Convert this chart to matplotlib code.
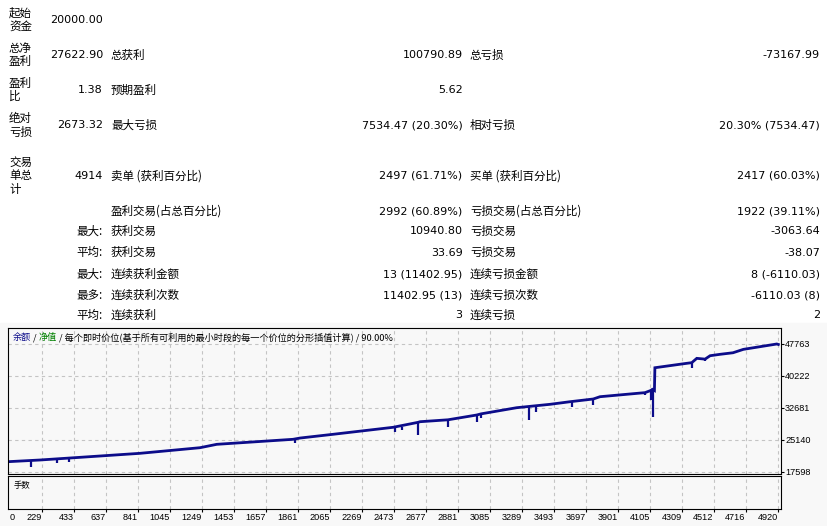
import matplotlib
matplotlib.use("Agg")
import matplotlib.pyplot as plt
from matplotlib.patches import Rectangle

W, H = 827, 526
CJK = ['Noto Sans CJK SC', 'DejaVu Sans']
NUM = ['DejaVu Sans']

# ---- 报告表格 ----
top_labels = [["起始", "资金"], ["总净", "盈利"], ["盈利", "比"], ["绝对", "亏损"], ["交易", "单总", "计"]]
top_vals = ["20000.00", "27622.90", "1.38", "2673.32", "4914"]
top_lab1 = ["", "总获利", "预期盈利", "最大亏损", "卖单 (获利百分比)"]
top_val1 = ["", "100790.89", "5.62", "7534.47 (20.30%)", "2497 (61.71%)"]
top_lab2 = ["", "总亏损", "", "相对亏损", "买单 (获利百分比)"]
top_val2 = ["", "-73167.99", "", "20.30% (7534.47)", "2417 (60.03%)"]

low_prefix = ["", "最大:", "平均:", "最大:", "最多:", "平均:"]
low_lab1 = ["盈利交易(占总百分比)", "获利交易", "获利交易", "连续获利金额", "连续获利次数", "连续获利"]
low_val1 = ["2992 (60.89%)", "10940.80", "33.69", "13 (11402.95)", "11402.95 (13)", "3"]
low_lab2 = ["亏损交易(占总百分比)", "亏损交易", "亏损交易", "连续亏损金额", "连续亏损次数", "连续亏损"]
low_val2 = ["1922 (39.11%)", "-3063.64", "-38.07", "8 (-6110.03)", "-6110.03 (8)", "2"]

# ---- 余额曲线 (交易序号, 余额) ----
bal_trades = [0, 218, 601, 856, 1238, 1345, 1831, 1876, 2086, 2469, 2628, 2641, 2819,
              3002, 3030, 3257, 3470, 3597, 3745, 3788, 4075, 4111, 4122, 4135, 4138,
              4341, 4373, 4405, 4458, 4490, 4553, 4636, 4702, 4915, 4925]
bal_values = [20000, 20425, 21368, 22000, 23323, 24120, 25300, 25600, 26480, 28130, 29300, 29450, 29900,
              31028, 31300, 32750, 33550, 34160, 34800, 35340, 36300, 36800, 37080, 36800, 42170,
              43210, 43360, 44380, 44200, 45000, 45330, 45700, 46500, 47763, 47650]
# 回撤尖刺 (交易序号, 上端, 下端)
dip_trades = [161, 327, 403, 1844, 2480, 2524, 2628, 2819, 3002, 3030, 3338, 3378,
              3608, 3745, 4075, 4111, 4128, 4373, 4458]
dip_tops = [20300, 20700, 20900, 25600, 28150, 28300, 29300, 29900, 31000, 31300, 33000, 33100,
            34200, 34800, 36400, 36800, 37080, 43360, 44300]
dip_lows = [18850, 19790, 20025, 24500, 27090, 27490, 26400, 28270, 29300, 30390, 29850, 31660,
            32980, 33380, 35740, 34560, 30630, 42170, 43820]

x_ticks = [229, 433, 637, 841, 1045, 1249, 1453, 1657, 1861, 2065, 2269, 2473, 2677,
           2881, 3085, 3289, 3493, 3697, 3901, 4105, 4309, 4512, 4716, 4920]
y_ticks = [17598, 25140, 32681, 40222, 47763]


def frect(l, t, r, b):
    return [l / W, (H - b) / H, (r - l) / W, (b - t) / H]


fig = plt.figure(figsize=(W / 100, H / 100), dpi=100)
fig.patch.set_facecolor('white')

bg = fig.add_axes([0, 0, 1, 1])
bg.set_xlim(0, W)
bg.set_ylim(H, 0)
bg.axis('off')
bg.add_patch(Rectangle((0, 323), W, H - 323, color='#f8f8f8', zorder=0))

fs_num = 8
fs_cjk = 8.3
top_y = [20, 55, 90, 125.5, 176]
for i, y in enumerate(top_y):
    n = len(top_labels[i])
    for j, s in enumerate(top_labels[i]):
        bg.text(9, y + (j - (n - 1) / 2) * 13.5, s, family=CJK, fontsize=fs_cjk, va='center', ha='left')
    bg.text(103, y, top_vals[i], family=NUM, fontsize=fs_num, va='center', ha='right')
    bg.text(111, y, top_lab1[i], family=CJK, fontsize=fs_cjk, va='center', ha='left')
    bg.text(462.5, y, top_val1[i], family=NUM, fontsize=fs_num, va='center', ha='right')
    bg.text(470, y, top_lab2[i], family=CJK, fontsize=fs_cjk, va='center', ha='left')
    bg.text(820, y, top_val2[i], family=NUM, fontsize=fs_num, va='center', ha='right')

low_y = [211, 231, 252.7, 274.3, 295, 315]
for i, y in enumerate(low_y):
    bg.text(103, y, low_prefix[i], family=CJK, fontsize=fs_cjk, va='center', ha='right')
    bg.text(111, y, low_lab1[i], family=CJK, fontsize=fs_cjk, va='center', ha='left')
    bg.text(462.5, y, low_val1[i], family=NUM, fontsize=fs_num, va='center', ha='right')
    bg.text(470, y, low_lab2[i], family=CJK, fontsize=fs_cjk, va='center', ha='left')
    bg.text(820, y, low_val2[i], family=NUM, fontsize=fs_num, va='center', ha='right')

# ---- 图表 ----
navy = '#0c0c8a'
grid_kw = dict(color='#c4c4c4', linestyle=(0, (3, 3)), linewidth=0.8)
tick_font = dict(family='Liberation Sans', size=6.6)

ax = fig.add_axes(frect(7.5, 327.5, 780.7, 473.5))
ax.set_facecolor('#f8f8f8')
ax.set_xlim(11, 4940)
ax.set_ylim(17244, 51651)
ax.set_xticks(x_ticks)
ax.set_yticks(y_ticks)
ax.grid(True, **grid_kw)
ax.tick_params(axis='x', length=0, labelbottom=False)
ax.yaxis.tick_right()
ax.tick_params(axis='y', length=2.2, width=0.8, pad=1, labelsize=6.6)
for lab in ax.get_yticklabels():
    lab.set_family('Liberation Sans')
for s in ax.spines.values():
    s.set_linewidth(0.8)

ax.plot(bal_trades, bal_values, color=navy, lw=2.0, solid_joinstyle='miter')
ax.vlines(dip_trades, dip_lows, dip_tops, color=navy, lw=1.6)

# 标题
head = [("余额", navy), (" / ", 'black'), ("净值", '#008000'),
        (" / 每个即时价位(基于所有可利用的最小时段的每一个价位的分形插值计算) / 90.00%", 'black')]
prev = ax.text(12.5, 337.5, head[0][0], color=head[0][1], family=CJK, fontsize=6.6,
               va='center', ha='left', transform=bg.transData)
for s, c in head[1:]:
    prev = ax.annotate(s, xy=(1, 0.5), xycoords=prev, color=c, family=CJK, fontsize=6.6,
                       va='center', ha='left')

ax2 = fig.add_axes(frect(7.5, 475.5, 780.7, 509))
ax2.set_facecolor('#f8f8f8')
ax2.set_xlim(11, 4940)
ax2.set_ylim(0, 1)
ax2.set_yticks([])
ax2.set_xticks(x_ticks)
ax2.set_xticklabels([str(v) for v in x_ticks], ha='right', fontdict=tick_font)
ax2.tick_params(axis='x', length=2.2, width=0.8, pad=0.5)
ax2.grid(True, axis='x', **grid_kw)
for s in ax2.spines.values():
    s.set_linewidth(0.8)
ax2.text(14, 485.5, "手数", family=CJK, fontsize=6, va='center', ha='left', transform=bg.transData)
ax2.text(10, 517.3, "0", fontdict=tick_font, va='center', ha='left', transform=bg.transData)

fig.savefig("out.png", dpi=100, facecolor=fig.get_facecolor())
